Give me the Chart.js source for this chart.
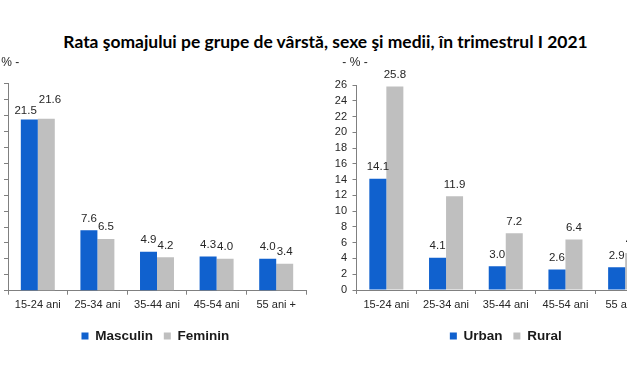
<!DOCTYPE html>
<html>
<head>
<meta charset="utf-8">
<script src="https://cdn.jsdelivr.net/npm/chart.js@4.4.1/dist/chart.umd.min.js"></script>
<style>
html,body{margin:0;padding:0;background:#fff;}
body{width:627px;height:376px;overflow:hidden;position:relative;}
#title{position:absolute;left:0;width:651px;top:35px;text-align:center;font-family:Lato,"Open Sans",sans-serif;font-weight:bold;font-size:15px;line-height:15px;color:#000;white-space:nowrap;}
.wrap{position:absolute;top:0;}
canvas{display:block;}
</style>
</head>
<body>
<div id="title"></div>
<div class="wrap" id="w1" style="left:-47px;"><canvas id="c1" width="360" height="376"></canvas></div>
<div class="wrap" id="w2" style="left:300px;"><canvas id="c2" width="363" height="376"></canvas></div>
<script>
// ---- data ----
const titleText = 'Rata şomajului pe grupe de vârstă, sexe şi medii, în trimestrul I 2021';
const categories = ['15-24 ani', '25-34 ani', '35-44 ani', '45-54 ani', '55 ani +'];
const masculin = [21.5, 7.6, 4.9, 4.3, 4.0];
const feminin  = [21.6, 6.5, 4.2, 4.0, 3.4];
const urban = [14.1, 4.1, 3.0, 2.6, 2.9];
const rural = [25.8, 11.9, 7.2, 6.4, 4.7];
const leftNames = ['Masculin', 'Feminin'];
const rightNames = ['Urban', 'Rural'];
const yMax = 26;
const yStep = 2;
const unitLabel = '- % -';

// ---- styles ----
const BLUE = '#1061CE';
const GRAY = '#BFBFBF';
const AXIS = '#808080';
const TXT = '#262626';
const FONT = '"Liberation Sans", Arial, sans-serif';

Chart.defaults.font.family = FONT;
Chart.defaults.color = TXT;

// title fitted to reference width
(function(){
  const t = document.getElementById('title');
  t.textContent = titleText;
  const ctx = document.createElement('canvas').getContext('2d');
  ctx.font = 'bold 15px Lato';
  const w = ctx.measureText(titleText).width;
  const fs = 15 * 525 / w;
  t.style.fontSize = fs + 'px';
  t.style.lineHeight = fs + 'px';
  t.style.top = (48.3 - 0.887 * fs) + 'px';
})();

const valueLabels = {
  id: 'valueLabels',
  afterDatasetsDraw(chart) {
    const ctx = chart.ctx;
    ctx.save();
    ctx.font = '11.5px ' + FONT;
    ctx.fillStyle = TXT;
    ctx.textAlign = 'center';
    ctx.textBaseline = 'alphabetic';
    const n = chart.data.labels.length;
    for (let i = 0; i < n; i++) {
      const items = [];
      chart.data.datasets.forEach((ds, d) => {
        const el = chart.getDatasetMeta(d).data[i];
        const text = ds.data[i].toFixed(1);
        items.push({x: el.x, y: el.y - 8.5, w: ctx.measureText(text).width, text});
      });
      for (let k = 1; k < items.length; k++) {
        const a = items[k - 1], b = items[k];
        const ov = (a.w + b.w) / 2 - (b.x - a.x);
        if (ov > 0 && Math.abs(a.y - b.y) < 10) {
          a.x -= ov / 2 + 1; b.x += ov / 2 + 1;
          a.y += 2.5; b.y -= 7.5;
        }
      }
      items.forEach(it => ctx.fillText(it.text, it.x, it.y));
    }
    ctx.restore();
  }
};

const unitPlugin = {
  id: 'unitPlugin',
  afterDraw(chart) {
    const ctx = chart.ctx;
    ctx.save();
    ctx.font = '12px ' + FONT;
    ctx.fillStyle = TXT;
    ctx.textAlign = 'center';
    ctx.textBaseline = 'middle';
    ctx.fillText(unitLabel, chart.chartArea.left - 1.5, 63);
    ctx.restore();
  }
};

function makeChart(id, names, a, b, g) {
  return new Chart(document.getElementById(id), {
    type: 'bar',
    data: {
      labels: categories,
      datasets: [
        {label: names[0], data: a, backgroundColor: BLUE, borderWidth: 0, categoryPercentage: 0.57, barPercentage: 1},
        {label: names[1], data: b, backgroundColor: GRAY, borderWidth: 0, categoryPercentage: 0.57, barPercentage: 1}
      ]
    },
    options: {
      responsive: false,
      animation: false,
      events: [],
      layout: {padding: {left: g.pl, right: g.pr, top: g.top, bottom: g.pb}},
      plugins: {
        legend: {
          position: 'bottom',
          fullSize: g.fullLegend,
          labels: {boxWidth: 7, boxHeight: 7, padding: 10.8, color: '#1a1a1a', font: {size: 13.5, weight: 'bold', family: FONT}}
        },
        tooltip: {enabled: false},
        title: {display: false}
      },
      scales: {
        x: {
          offset: true,
          grid: {offset: true, drawOnChartArea: false, drawTicks: true, tickLength: 4, color: AXIS},
          border: {display: true, color: AXIS, width: 1},
          ticks: {padding: 4, maxRotation: 0, autoSkip: false, color: TXT, font: {size: 11}},
          afterFit: s => { s.height = g.xh; }
        },
        y: {
          min: 0, max: yMax,
          grid: {drawOnChartArea: false, drawTicks: true, tickLength: 4, color: AXIS},
          border: {display: true, color: AXIS, width: 1},
          ticks: {stepSize: yStep, autoSkip: false, padding: 5.5, color: TXT, font: {size: 11}},
          afterFit: s => { s.width = g.yw; }
        }
      }
    },
    plugins: [valueLabels, unitPlugin]
  });
}

makeChart('c1', leftNames, masculin, feminin, {pl: 51.8, yw: 3.2, pr: 7, top: 83.8, pb: 23.25, xh: 27.75, fullLegend: true});
makeChart('c2', rightNames, urban, rural, {pl: 16.5, yw: 40, pr: 8, top: 85, pb: 23.25, xh: 28.45, fullLegend: false});
</script>
</body>
</html>
